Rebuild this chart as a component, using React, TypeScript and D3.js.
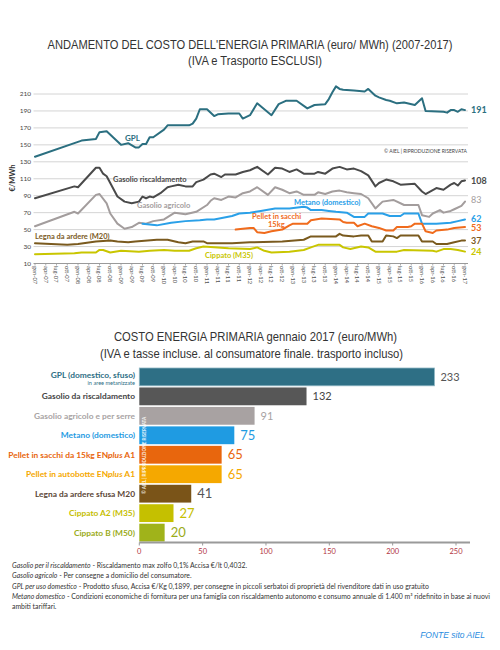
import React from "react";
import * as d3 from "d3";

// ---------- Top chart data (month index since gen-07, €/MWh) ----------
const quarterMonths = ["gen", "apr", "lug", "ott"];
const yearSuffixes = ["07", "08", "09", "10", "11", "12", "13", "14", "15", "16"];
const lastTickLabel = "gen-17";
const yTicks = [10, 30, 50, 70, 90, 110, 130, 150, 170, 190, 210];

const gplData: [number, number][] = [
  [0, 136], [13, 155], [17, 157], [18, 165], [20, 166], [24, 150], [26, 152], [28, 147], [29, 147],
  [30, 151], [31, 151], [32, 159], [33, 159], [36, 168], [37, 173], [40, 173], [43, 173], [44, 175],
  [45, 181], [46, 192], [48, 192], [50, 184], [51, 186], [54, 187], [57, 187], [58, 181], [60, 185],
  [62, 199], [66, 185], [68, 198], [70, 202], [73, 202], [76, 193], [78, 197], [81, 198], [82, 204],
  [83, 212], [84, 219], [85, 216], [86, 215], [89, 214], [92, 213], [93, 216], [95, 208], [96, 206],
  [98, 203], [99, 202], [101, 199], [103, 200], [106, 197], [108, 205], [109, 190], [114, 189],
  [115, 188], [116, 191], [117, 191], [118, 189], [119, 192], [120, 191],
];

const gasolioRiscData: [number, number][] = [
  [0, 87], [11, 101], [12, 100], [17, 123], [18, 123], [19, 116], [20, 113], [23, 89], [25, 83],
  [27, 81], [29, 83], [30, 89], [31, 87], [32, 89], [33, 88], [35, 93], [37, 100], [38, 101],
  [40, 103], [42, 101], [44, 101], [45, 106], [47, 109], [49, 115], [50, 116], [52, 112], [53, 115],
  [56, 115], [58, 118], [60, 120], [62, 124], [65, 115], [67, 123], [69, 122], [71, 118], [73, 121],
  [75, 116], [78, 116], [79, 118], [81, 116], [83, 122], [85, 124], [87, 121], [89, 122], [91, 119],
  [93, 114], [95, 101], [96, 105], [98, 109], [100, 107], [102, 103], [106, 104], [108, 95],
  [109, 92], [112, 99], [114, 97], [116, 103], [117, 105], [118, 102], [119, 107], [120, 108],
];

const gasolioAgrData: [number, number][] = [
  [0, 54], [11, 71], [12, 69], [17, 91], [18, 92], [20, 81], [21, 69], [23, 57], [25, 51], [27, 53],
  [29, 58], [31, 57], [33, 60], [36, 62], [39, 70], [42, 68], [45, 71], [48, 79], [49, 84], [50, 87],
  [52, 85], [54, 89], [56, 88], [58, 93], [60, 95], [62, 100], [65, 91], [67, 100], [69, 97],
  [71, 93], [73, 95], [75, 91], [78, 91], [79, 94], [81, 92], [83, 95], [85, 96], [87, 94], [89, 93],
  [91, 92], [93, 87], [95, 75], [96, 79], [97, 83], [100, 85], [103, 79], [107, 79], [108, 67],
  [110, 65], [111, 69], [113, 73], [114, 70], [116, 72], [117, 74], [119, 78], [120, 83],
];

const metanoData: [number, number][] = [
  [30, 57], [34, 55], [38, 58], [42, 60], [46, 61], [48, 62], [50, 62], [55, 66], [57, 69], [60, 70],
  [63, 72], [67, 75], [71, 75], [75, 77], [76, 76], [77, 73], [80, 73], [82, 72], [84, 71], [87, 70],
  [89, 65], [92, 65], [93, 69], [97, 69], [99, 66], [102, 66], [103, 69], [107, 69], [108, 57],
  [112, 57], [116, 58], [118, 60], [120, 62],
];

const pelletData: [number, number][] = [
  [56, 50], [60, 52], [61, 52], [62, 47], [64, 46], [66, 48], [69, 50], [71, 55], [72, 57], [76, 57],
  [77, 61], [80, 63], [85, 62], [86, 59], [87, 58], [89, 58], [90, 54], [92, 57], [94, 54], [96, 52],
  [98, 49], [100, 49], [101, 53], [104, 53], [105, 54], [106, 57], [108, 57], [109, 48], [111, 46],
  [112, 49], [115, 50], [117, 52], [120, 53],
];

const legnaData: [number, number][] = [
  [0, 34], [9, 32], [12, 33], [17, 36], [21, 37], [23, 36], [26, 35], [28, 36], [34, 38], [37, 38],
  [40, 35], [42, 34], [44, 36], [47, 36], [48, 34], [55, 34], [60, 35], [69, 36], [75, 38], [77, 42],
  [84, 42], [85, 45], [86, 43], [89, 42], [91, 43], [93, 43], [94, 36], [97, 36], [98, 43], [100, 42],
  [101, 40], [102, 43], [107, 43], [108, 36], [111, 36], [112, 33], [115, 33], [117, 35], [119, 37],
  [120, 37],
];

const cippatoData: [number, number][] = [
  [0, 21], [11, 22], [13, 23], [17, 23], [18, 26], [19, 26], [21, 23], [24, 25], [29, 24], [32, 25],
  [36, 26], [39, 25], [43, 25], [45, 28], [47, 30], [51, 29], [54, 28], [60, 27], [62, 29], [64, 25],
  [66, 23], [71, 24], [75, 26], [77, 29], [79, 32], [85, 32], [86, 29], [88, 27], [91, 30], [93, 29],
  [95, 24], [101, 24], [103, 26], [111, 25], [112, 24], [114, 27], [116, 27], [118, 26], [120, 24],
];

const seriesNames = ["GPL", "Gasolio riscaldamento", "Gasolio agricolo", "Metano (domestico)", "Pellet in sacchi", "Legna da ardere (M20)", "Cippato (M35)"];
const seriesData = [gplData, gasolioRiscData, gasolioAgrData, metanoData, pelletData, legnaData, cippatoData];
const seriesEndValues = [191, 108, 83, 62, 53, 37, 24];

// ---------- Bar chart data ----------
const barCategories = [
  "GPL (domestico, sfuso)",
  "Gasolio da riscaldamento",
  "Gasolio agricolo e per serre",
  "Metano (domestico)",
  "Pellet in sacchi da 15kg ENplus A1",
  "Pellet in autobotte ENplus A1",
  "Legna da ardere sfusa M20",
  "Cippato A2 (M35)",
  "Cippato B (M50)",
];
const barValues = [233, 132, 91, 75, 65, 65, 41, 27, 20];

// ---------- styles ----------
const lineColors = ["#2b6f80", "#4a4a4a", "#a39d9d", "#2aa0e8", "#f06b1c", "#7a5a1e", "#c9c600"];
const endLabelColors = ["#2b6f80", "#4a4a4a", "#a39d9d", "#2aa0e8", "#f06b1c", "#7a5a1e", "#c9c600"];
const endLabelNudge = [0, 0, -2, -1, 1, 0, 0];
const barColors = ["#2e6f85", "#575757", "#a8a2a2", "#1f9be2", "#e8660d", "#f5a800", "#7a5418", "#c5c000", "#a0b31a"];
const barLabelColors = ["#2e6f85", "#444444", "#a8a3a3", "#1f9be2", "#e8660d", "#f5a800", "#5b4636", "#c5be00", "#9aab18"];
const barValueColors = ["#555555", "#444444", "#a8a3a3", "#1f9be2", "#e8660d", "#f5a800", "#555555", "#c5be00", "#9aab18"];

const FONT_UI = "Lato, 'Open Sans', sans-serif";
const FONT_TITLE = "'Liberation Sans', Arial, sans-serif";

function renderLabel(label: string) {
  const idx = label.indexOf("ENplus");
  if (idx < 0) return label;
  return (
    <>
      {label.slice(0, idx + 2)}
      <tspan fontStyle="italic">plus</tspan>
      {label.slice(idx + 6)}
    </>
  );
}

export default function App() {
  // top chart scales
  const x = d3.scaleLinear().domain([0, 120]).range([35, 465]);
  const y = d3.scaleLinear().domain([10, 210]).range([263.5, 94]);
  const line = d3.line<[number, number]>().x((d) => x(d[0])).y((d) => y(d[1]));

  const xTickLabels: string[] = [];
  yearSuffixes.forEach((yr) => quarterMonths.forEach((m) => xTickLabels.push(`${m}-${yr}`)));
  xTickLabels.push(lastTickLabel);

  // bar chart scales
  const bx = d3.scaleLinear().domain([0, 250]).range([139.3, 456]);
  const by = d3.scaleBand<string>().domain(barCategories).range([368, 541.5]).paddingInner(0.085);

  // series label placements (style)
  const seriesLabelPos = [
    { x: 125, y: 141 },
    { x: 113, y: 181.5 },
    { x: 137, y: 208 },
    { x: 294, y: 205 },
    { x: 252, y: 219 },
    { x: 35, y: 238.5 },
    { x: 205, y: 257.5 },
  ];

  const barValueSizes = [11, 11, 11, 13, 13, 13, 13, 13, 13];

  return (
    <svg
      width={500}
      height={650}
      style={{ position: "absolute", left: 0, top: 0, background: "#fff" }}
    >
      <rect x={0} y={0} width={500} height={650} fill="#fff" />

      {/* Top title */}
      <text x={250} y={49} textAnchor="middle" fontFamily={FONT_TITLE} fontSize={12} fill="#333"
        textLength={405} lengthAdjust="spacingAndGlyphs">
        ANDAMENTO DEL COSTO DELL'ENERGIA PRIMARIA (euro/ MWh) (2007-2017)
      </text>
      <text x={255} y={64.5} textAnchor="middle" fontFamily={FONT_TITLE} fontSize={12} fill="#333"
        textLength={134} lengthAdjust="spacingAndGlyphs">
        (IVA e Trasporto ESCLUSI)
      </text>

      {/* gridlines */}
      {yTicks.map((t) => (
        <g key={t}>
          {t !== 10 && (
            <line x1={33.5} x2={468} y1={y(t)} y2={y(t)} stroke="#d4d4d4" strokeWidth={1} />
          )}
          <text x={31} y={y(t)} dy="0.35em" textAnchor="end" fontFamily={FONT_UI} fontSize={6.5} fill="#444">
            {t}
          </text>
        </g>
      ))}
      <line x1={33.5} x2={468} y1={y(10)} y2={y(10)} stroke="#9a9a9a" strokeWidth={1} />

      {/* x ticks and labels */}
      {xTickLabels.map((lab, i) => {
        const xx = x(i * 3);
        return (
          <g key={lab}>
            <line x1={xx} x2={xx} y1={y(10)} y2={y(10) + 2} stroke="#9a9a9a" strokeWidth={0.8} />
            <text
              transform={`translate(${xx},${y(10) + 2.5}) rotate(90)`}
              dy="0.35em"
              textAnchor="start"
              fontFamily={FONT_UI}
              fontSize={5.8}
              fill="#555"
            >
              {lab}
            </text>
          </g>
        );
      })}

      {/* y axis title */}
      <text transform={`translate(15,178) rotate(-90)`} textAnchor="middle" fontFamily={FONT_UI}
        fontWeight={700} fontSize={7.5} fill="#333">
        €/MWh
      </text>

      {/* series lines */}
      {seriesData.map((d, i) => (
        <path key={seriesNames[i]} d={line(d) || ""} fill="none" stroke={lineColors[i]} strokeWidth={2}
          strokeLinejoin="round" strokeLinecap="round" />
      ))}

      {/* series labels */}
      {seriesNames.map((n, i) => (
        <text key={n} x={seriesLabelPos[i].x} y={seriesLabelPos[i].y} fontFamily={FONT_UI} fontWeight={700}
          fontSize={i === 0 ? 8 : 7.5} fill={lineColors[i]}>
          {n}
        </text>
      ))}
      <text x={268} y={227} fontFamily={FONT_UI} fontWeight={700} fontSize={7.5} fill={lineColors[4]}>
        15kg
      </text>

      {/* end labels */}
      {seriesEndValues.map((v, i) => (
        <text key={i} x={471} y={y(v) + endLabelNudge[i]} dy="0.35em" fontFamily={FONT_UI}
          fontWeight={i === 2 ? 400 : 700} fontSize={9} fill={endLabelColors[i]}>
          {v}
        </text>
      ))}

      {/* copyright */}
      <text x={467} y={152.5} textAnchor="end" fontFamily={FONT_UI} fontSize={5} fill="#444">
        © AIEL | RIPRODUZIONE RISERVATA
      </text>

      {/* Bottom title */}
      <text x={255.5} y={341} textAnchor="middle" fontFamily={FONT_TITLE} fontSize={13} fill="#333"
        textLength={283} lengthAdjust="spacingAndGlyphs">
        COSTO ENERGIA PRIMARIA gennaio 2017 (euro/MWh)
      </text>
      <text x={251.5} y={357.5} textAnchor="middle" fontFamily={FONT_TITLE} fontSize={13} fill="#333"
        textLength={303} lengthAdjust="spacingAndGlyphs">
        (IVA e tasse incluse. al consumatore finale. trasporto incluso)
      </text>

      {/* bars */}
      {barCategories.map((c, i) => {
        const yy = by(c) as number;
        const bh = by.bandwidth();
        const cy = yy + bh / 2;
        return (
          <g key={c}>
            <rect x={bx(0)} y={yy} width={bx(barValues[i]) - bx(0)} height={bh} fill={barColors[i]}
              stroke={i === 0 ? "#8fb7c4" : "none"} strokeWidth={i === 0 ? 0.8 : 0} />
            <text x={bx(barValues[i]) + 6} y={cy} dy="0.36em" fontFamily={FONT_UI} fontSize={barValueSizes[i]}
              fill={barValueColors[i]}>
              {barValues[i]}
            </text>
            <text x={135} y={i === 0 ? cy - 1.8 : cy} dy="0.35em" textAnchor="end" fontFamily={FONT_UI}
              fontWeight={700} fontSize={8.4} fill={barLabelColors[i]}>
              {renderLabel(c)}
            </text>
            {i === 0 && (
              <text x={135} y={cy + 6.3} dy="0.35em" textAnchor="end" fontFamily={FONT_UI} fontSize={5.6}
                fill={barLabelColors[0]}>
                in aree metanizzate
              </text>
            )}
          </g>
        );
      })}

      {/* watermark inside bars */}
      <text transform={`translate(146,494) rotate(-90)`} fontFamily={FONT_UI} fontSize={4.6} fill="#fff"
        fontWeight={700} opacity={0.85}>
        © AIEL | RIPRODUZIONE RISERVATA
      </text>

      {/* bar axis */}
      <line x1={bx(0)} x2={470} y1={542.5} y2={542.5} stroke="#9a9a9a" strokeWidth={2} />
      {bx.ticks(5).map((t) => (
        <g key={t}>
          <line x1={bx(t)} x2={bx(t)} y1={542.5} y2={545.5} stroke="#9a9a9a" strokeWidth={1} />
          <text x={bx(t)} y={551.5} dy="0.35em" textAnchor="middle" fontFamily={FONT_UI} fontSize={7.5}
            fill="#b2343f">
            {t}
          </text>
        </g>
      ))}

      {/* footnotes */}
      <g fontFamily={FONT_UI} fontSize={6.9} fill="#333">
        <text x={12} y={567.5}>
          <tspan fontStyle="italic">Gasolio per il riscaldamento</tspan> - Riscaldamento max zolfo 0,1% Accisa €/lt 0,4032.
        </text>
        <text x={12} y={578}>
          <tspan fontStyle="italic">Gasolio agricolo</tspan> - Per consegne a domicilio del consumatore.
        </text>
        <text x={12} y={588.5}>
          <tspan fontStyle="italic">GPL per uso domestico</tspan> - Prodotto sfuso, Accisa €/Kg 0,1899, per consegne in piccoli serbatoi di proprietà del rivenditore dati in uso gratuito
        </text>
        <text x={12} y={599}>
          <tspan fontStyle="italic">Metano domestico</tspan> - Condizioni economiche di fornitura per una famiglia con riscaldamento autonomo e consumo annuale di 1.400 m³ ridefinito in base ai nuovi
        </text>
        <text x={12} y={608.5}>ambiti tariffari.</text>
      </g>

      <text x={485} y={638} textAnchor="end" fontFamily={FONT_TITLE} fontStyle="italic" fontSize={8.5}
        fill="#2a8be0">
        FONTE sito AIEL
      </text>
    </svg>
  );
}
